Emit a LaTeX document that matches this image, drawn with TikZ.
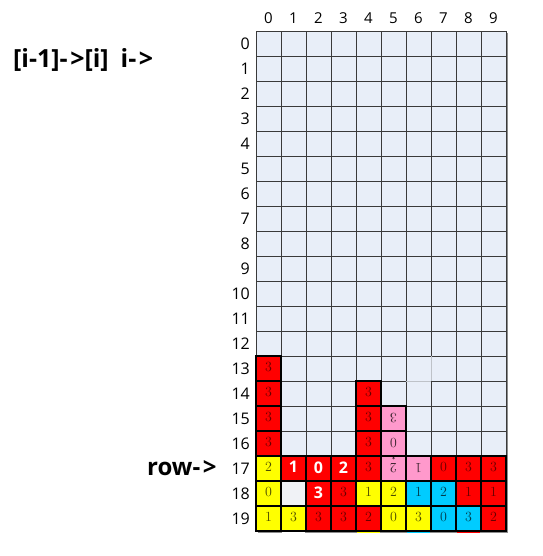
\documentclass[tikz,border=0pt]{standalone}
\usepackage{fontspec}
\newfontfamily\labfont{Open Sans}
\definecolor{gridbg}{HTML}{E8EEF8}
\definecolor{gridline}{HTML}{3A3A3A}
\definecolor{cred}{HTML}{FF0000}
\definecolor{cyel}{HTML}{FFFF00}
\definecolor{cpink}{HTML}{FF99CC}
\definecolor{ccyan}{HTML}{00CCFF}
\definecolor{cblank}{HTML}{F0F2F6}
\definecolor{tred}{HTML}{660000}
\definecolor{tyel}{HTML}{4D4D00}
\definecolor{tpink}{HTML}{3D2530}
\definecolor{tcyan}{HTML}{003D4D}
\tikzset{
  cell/.style={draw=gridline, line width=0.9pt, fill=gridbg, minimum size=25pt, inner sep=0pt},
  ccell/.style={draw=black, line width=1.2pt, minimum size=25pt, inner sep=0pt,
     font=\fontsize{14}{16}\selectfont},
  redc/.style={ccell, fill=cred, text=tred},
  yelc/.style={ccell, fill=cyel, text=tyel},
  pinkc/.style={ccell, fill=cpink, text=tpink},
  cyanc/.style={ccell, fill=ccyan, text=tcyan},
  blankc/.style={ccell, fill=cblank},
  boldw/.style={redc, text=white, font=\labfont\bfseries\fontsize{16}{18}\selectfont},
  collab/.style={font=\labfont\fontsize{15}{17}\selectfont, inner sep=0pt},
  rowlab/.style={font=\labfont\fontsize{16}{18}\selectfont, inner sep=0pt, anchor=east},
  biglab/.style={font=\labfont\bfseries\fontsize{25}{28}\selectfont, inner sep=0pt},
}
\newcommand{\dg}[1]{\raisebox{2.5pt}{#1}}
\newcommand{\arr}{-\kern2.5pt>}
\begin{document}
\begin{tikzpicture}[x=1pt,y=-1pt]
\useasboundingbox[fill=white] (0,0) rectangle (542,556);
% shadow
\fill[black!45] (258,33) rectangle (508,533);
% empty grid
\foreach \r in {0,...,19} {
  \foreach \c in {0,...,9} {
    \node[cell] (g-\r-\c) at (256+\c*25+12.5, 31+\r*25+12.5) {};
  }
}
% column labels
\foreach \c in {0,...,9} {
  \node[collab] (col-\c) at (256+\c*25+12.5, 18.5) {\c};
}
% row labels
\foreach \r in {0,...,19} {
  \node[rowlab] (row-\r) at (250, 31+\r*25+12.5) {\r};
}
% light edges of cell (13,6)
\draw[gridbg!60!gray, line width=1pt] (g-13-6.north east) -- (g-13-6.south east);
\draw[gridbg!60!gray, line width=1pt] (g-13-6.south west) -- (g-13-6.south east);
% coloured cells
\newcommand{\cellat}[4]{\node[#3] (k-#1-#2) at (256+#2*25+12.5, 31+#1*25+12.5) {#4};}
\cellat{13}{0}{redc}{\dg{3}}
\cellat{14}{0}{redc}{\dg{3}}
\cellat{15}{0}{redc}{\dg{3}}
\cellat{16}{0}{redc}{\dg{3}}
\cellat{14}{4}{redc}{\dg{3}}
\cellat{15}{4}{redc}{\dg{3}}
\cellat{16}{4}{redc}{\dg{3}}
\cellat{15}{5}{pinkc}{\rotatebox{180}{3}}
\cellat{16}{5}{pinkc}{\rotatebox{180}{0}}
% row 17
\cellat{17}{0}{yelc}{\dg{2}}
\cellat{17}{1}{boldw}{\dg{1}}
\cellat{17}{2}{boldw}{\dg{0}}
\cellat{17}{3}{boldw}{\dg{2}}
\cellat{17}{4}{redc}{\dg{3}}
\cellat{17}{5}{pinkc}{\raisebox{2pt}{\rotatebox{180}{2}}}
\cellat{17}{6}{pinkc}{\rotatebox{180}{1}}
\cellat{17}{7}{redc}{\dg{0}}
\cellat{17}{8}{redc}{\dg{3}}
\cellat{17}{9}{redc}{\dg{3}}
% row 18
\cellat{18}{0}{yelc}{\dg{0}}
\cellat{18}{1}{blankc}{}
\cellat{18}{2}{boldw}{\dg{3}}
\cellat{18}{3}{redc}{\dg{3}}
\cellat{18}{4}{yelc}{\dg{1}}
\cellat{18}{5}{yelc}{\dg{2}}
\cellat{18}{6}{cyanc}{\dg{1}}
\cellat{18}{7}{cyanc}{\dg{2}}
\cellat{18}{8}{redc}{\dg{1}}
\cellat{18}{9}{redc}{\dg{1}}
% row 19
\cellat{19}{0}{yelc}{\dg{1}}
\cellat{19}{1}{yelc}{\dg{3}}
\cellat{19}{2}{redc}{\dg{3}}
\cellat{19}{3}{redc}{\dg{3}}
\cellat{19}{4}{redc}{\dg{2}}
\cellat{19}{5}{yelc}{\dg{0}}
\cellat{19}{6}{yelc}{\dg{3}}
\cellat{19}{7}{cyanc}{\dg{0}}
\cellat{19}{8}{cyanc}{\dg{3}}
\cellat{19}{9}{redc}{\dg{2}}
% small mark between pink cells
\draw[tpink, line width=0.5pt] ([yshift=-1.5pt]k-16-5.south) circle (0.9pt);
% thin coloured lines on bottom edge
\draw[white, line width=1pt] ([xshift=2pt,yshift=-1pt]k-19-1.south west) -- ([xshift=-2pt,yshift=-1pt]k-19-1.south east);
\draw[cyel, line width=1pt] ([xshift=2pt,yshift=-1pt]k-19-4.south west) -- ([xshift=-2pt,yshift=-1pt]k-19-4.south east);
\draw[ccyan, line width=1pt] ([xshift=2pt,yshift=-1pt]k-19-6.south west) -- ([xshift=-2pt,yshift=-1pt]k-19-6.south east);
\draw[cred, line width=1pt] ([xshift=2pt,yshift=-1pt]k-19-8.south west) -- ([xshift=-2pt,yshift=-1pt]k-19-8.south east);
% side labels
\node[biglab, anchor=west] (title) at (13, 60) {[i-1]\arr[i]\hspace{12pt}i\arr};
\node[biglab, anchor=west, font=\labfont\bfseries\fontsize{24}{28}\selectfont] (rowptr) at (147, 468) {row\arr};
\end{tikzpicture}
\end{document}
